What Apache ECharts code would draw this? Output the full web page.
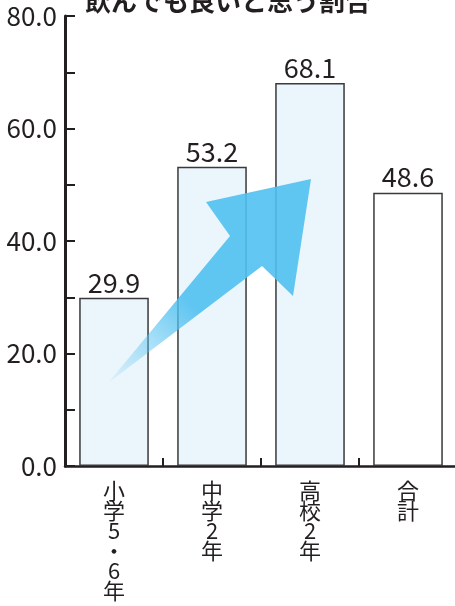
<!DOCTYPE html>
<html><head><meta charset="utf-8">
<script src="https://cdn.jsdelivr.net/npm/echarts@6/dist/echarts.min.js"></script>
<style>html,body{margin:0;padding:0;background:#fff}#c{width:455px;height:606px}</style>
</head><body><div id="c"></div>
<script>
const categories = ['小学5・6年', '中学2年', '高校2年', '合計'];
const values = [29.9, 53.2, 68.1, 48.6];
const yTicks = [0, 20, 40, 60, 80];
const titleText = '飲んでも良いと思う割合';

const ink = '#231f20';
const font = '"Noto Sans CJK JP", "Noto Sans", sans-serif';
const chart = echarts.init(document.getElementById('c'), null, {renderer: 'canvas'});

const arrowPts = [[108,383],[230,236],[206,202],[311,179],[293,296],[262,266]];

chart.setOption({
  animation: false,
  backgroundColor: '#fff',
  title: {
    text: titleText, left: 80, top: -17,
    textStyle: {fontFamily: font, fontSize: 26, fontWeight: 'bold', color: ink}
  },
  grid: {left: 65, right: -2, top: 16, bottom: 140, containLabel: false, outerBoundsMode: 'none'},
  xAxis: {
    type: 'category', data: categories, boundaryGap: true,
    axisLine: {lineStyle: {color: ink, width: 2.5}},
    axisTick: {show: true, inside: true, length: 8, lineStyle: {color: ink, width: 2}},
    axisLabel: {
      interval: 0, margin: 15, fontFamily: font, fontSize: 22, color: ink,
      lineHeight: 20, verticalAlign: 'top',
      formatter: v => v.split('').join('\n')
    }
  },
  yAxis: {
    type: 'value', min: yTicks[0], max: yTicks[yTicks.length - 1], interval: 10,
    axisLine: {show: true, lineStyle: {color: ink, width: 3}},
    axisTick: {show: true, inside: true, length: 10, lineStyle: {color: ink, width: 2}},
    splitLine: {show: false},
    axisLabel: {
      margin: 8, fontFamily: font, fontSize: 26, color: ink,
      formatter: v => yTicks.includes(v) ? v.toFixed(1) : ''
    }
  },
  series: [{
    type: 'bar', data: values, barWidth: '71%', z: 2,
    itemStyle: {
      color: p => p.dataIndex === categories.length - 1 ? '#ffffff' : '#eaf5fc',
      borderColor: '#3a3a3a', borderWidth: 1.5
    },
    label: {
      show: true, position: 'top', distance: 2, fontFamily: font, fontSize: 27, color: ink,
      formatter: p => p.value.toFixed(1)
    }
  }],
  graphic: [{
    type: 'polygon', z: 100,
    shape: {points: arrowPts},
    style: {
      opacity: 0.9,
      fill: new echarts.graphic.LinearGradient(108, 383, 311, 179, [
        {offset: 0, color: 'rgba(85,195,240,0.08)'},
        {offset: 0.4, color: 'rgba(80,192,240,1)'},
        {offset: 1, color: 'rgba(80,192,240,1)'}
      ], true)
    }
  }]
});
</script></body></html>
